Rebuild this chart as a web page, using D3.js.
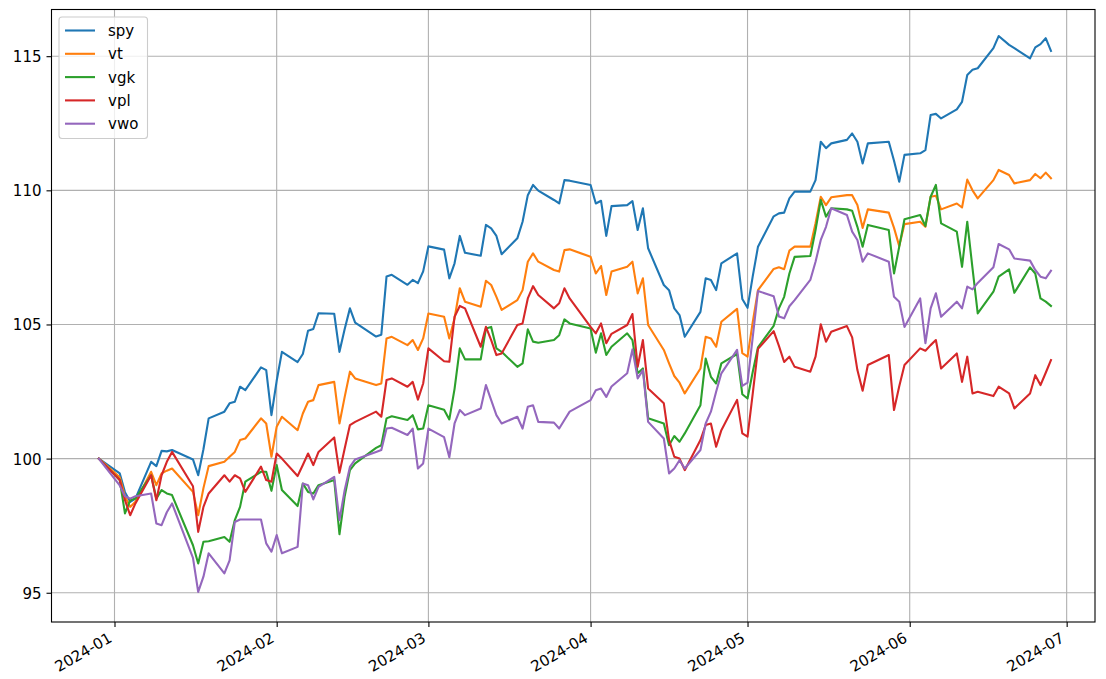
<!DOCTYPE html>
<html>
<head>
<meta charset="utf-8">
<script src="https://cdn.jsdelivr.net/npm/d3@7"></script>
<style>
  body { margin: 0; background: #fff; }
  svg { display: block; }
</style>
</head>
<body>
<div id="chart"></div>
<script>
// trading days, 2023-12-29 .. 2024-06-28
const dates = [
  "2023-12-29",
  "2024-01-02","2024-01-03","2024-01-04","2024-01-05","2024-01-08","2024-01-09","2024-01-10","2024-01-11","2024-01-12",
  "2024-01-16","2024-01-17","2024-01-18","2024-01-19","2024-01-22","2024-01-23","2024-01-24","2024-01-25","2024-01-26",
  "2024-01-29","2024-01-30","2024-01-31",
  "2024-02-01","2024-02-02","2024-02-05","2024-02-06","2024-02-07","2024-02-08","2024-02-09","2024-02-12","2024-02-13",
  "2024-02-14","2024-02-15","2024-02-16","2024-02-20","2024-02-21","2024-02-22","2024-02-23","2024-02-26","2024-02-27",
  "2024-02-28","2024-02-29",
  "2024-03-01","2024-03-04","2024-03-05","2024-03-06","2024-03-07","2024-03-08","2024-03-11","2024-03-12","2024-03-13",
  "2024-03-14","2024-03-15","2024-03-18","2024-03-19","2024-03-20","2024-03-21","2024-03-22","2024-03-25","2024-03-26",
  "2024-03-27","2024-03-28",
  "2024-04-01","2024-04-02","2024-04-03","2024-04-04","2024-04-05","2024-04-08","2024-04-09","2024-04-10","2024-04-11",
  "2024-04-12","2024-04-15","2024-04-16","2024-04-17","2024-04-18","2024-04-19","2024-04-22","2024-04-23","2024-04-24",
  "2024-04-25","2024-04-26","2024-04-29","2024-04-30",
  "2024-05-01","2024-05-02","2024-05-03","2024-05-06","2024-05-07","2024-05-08","2024-05-09","2024-05-10","2024-05-13",
  "2024-05-14","2024-05-15","2024-05-16","2024-05-17","2024-05-20","2024-05-21","2024-05-22","2024-05-23","2024-05-24",
  "2024-05-28","2024-05-29","2024-05-30","2024-05-31",
  "2024-06-03","2024-06-04","2024-06-05","2024-06-06","2024-06-07","2024-06-10","2024-06-11","2024-06-12","2024-06-13",
  "2024-06-14","2024-06-17","2024-06-18","2024-06-20","2024-06-21","2024-06-24","2024-06-25","2024-06-26","2024-06-27",
  "2024-06-28"
];

// values, one line per month
const spy = [100,
  99.45, 98.75, 98.39, 98.51, 99.88, 99.72, 100.29, 100.27, 100.32, 99.97, 99.38, 100.35, 101.5, 101.75, 102.06, 102.12, 102.68, 102.55, 103.4, 103.3, 101.62,
  102.9, 103.98, 103.6, 103.9, 104.77, 104.83, 105.42, 105.4, 103.98, 104.83, 105.6, 105.07, 104.55, 104.62, 106.79, 106.85, 106.48, 106.66, 106.54, 106.98,
  107.91, 107.79, 106.72, 107.28, 108.3, 107.67, 107.56, 108.71, 108.58, 108.3, 107.62, 108.21, 108.83, 109.82, 110.2, 109.99, 109.64, 109.51, 110.38, 110.36,
  110.2, 109.51, 109.61, 108.3, 109.41, 109.45, 109.6, 108.52, 109.33, 107.84, 106.47, 106.28, 105.6, 105.35, 104.54, 105.47, 106.72, 106.66, 106.28, 107.28, 107.65, 105.95,
  105.62, 106.8, 107.9, 109.03, 109.14, 109.17, 109.7, 109.95, 109.95, 110.38, 111.81, 111.57, 111.75, 111.88, 112.12, 111.81, 111.0, 111.75, 111.81, 111.1, 110.32, 111.32,
  111.38, 111.5, 112.81, 112.85, 112.68, 113.02, 113.3, 114.3, 114.49, 114.55, 115.3, 115.75, 115.42, 115.3, 114.92, 115.33, 115.45, 115.67, 115.2];

const vt = [100,
  99.3, 98.6, 98.2, 98.39, 99.51, 99.01, 99.45, 99.55, 99.63, 98.76, 97.89, 98.9, 99.72, 99.88, 100.07, 100.25, 100.69, 100.75, 101.5, 101.31, 100.07,
  101.19, 101.56, 101.06, 101.68, 102.12, 102.18, 102.74, 102.86, 101.31, 102.3, 103.24, 102.99, 102.74, 102.8, 104.48, 104.54, 104.23, 104.42, 104.05, 104.48,
  105.41, 105.29, 104.48, 105.23, 106.35, 105.85, 105.66, 106.63, 106.47, 106.03, 105.54, 105.91, 106.28, 107.34, 107.65, 107.34, 107.03, 106.97, 107.77, 107.8,
  107.52, 106.9, 107.18, 106.1, 106.97, 107.15, 107.34, 106.16, 106.72, 104.98, 104.05, 103.55, 103.08, 102.83, 102.43, 103.36, 104.54, 104.48, 104.17, 105.1, 105.58, 103.93,
  103.8, 105.1, 106.28, 107.07, 107.13, 107.06, 107.75, 107.9, 107.9, 108.77, 109.76, 109.45, 109.74, 109.82, 109.82, 109.45, 108.6, 109.29, 109.17, 108.6, 107.92, 108.74,
  108.83, 108.64, 109.76, 109.8, 109.29, 109.51, 109.36, 110.4, 110.0, 109.7, 110.38, 110.76, 110.57, 110.26, 110.38, 110.61, 110.45, 110.66, 110.45];

const vgk = [100,
  99.2, 97.96, 98.45, 98.51, 99.38, 98.51, 98.83, 98.7, 98.64, 96.77, 96.09, 96.9, 96.92, 97.08, 96.9, 97.71, 98.2, 99.14, 99.51, 99.51, 98.8,
  99.76, 98.83, 98.23, 99.07, 98.76, 98.7, 99.01, 99.2, 97.18, 98.6, 99.57, 99.82, 100.4, 100.5, 101.5, 101.58, 101.44, 101.62, 101.09, 101.12,
  101.99, 101.82, 101.46, 102.6, 104.11, 103.7, 103.7, 104.85, 104.91, 104.11, 103.98, 103.42, 103.55, 104.82, 104.36, 104.32, 104.42, 104.6, 105.19, 105.04,
  104.85, 103.95, 104.67, 103.86, 104.17, 104.67, 104.42, 103.18, 103.36, 101.5, 101.31, 100.5, 100.84, 100.63, 100.94, 101.99, 103.73, 103.05, 102.8, 103.55, 103.9, 102.4,
  102.24, 103.24, 104.15, 104.95, 105.6, 106.03, 106.9, 107.52, 107.55, 108.52, 109.64, 109.02, 109.33, 109.29, 109.24, 108.64, 107.9, 108.71, 108.52, 106.9, 107.9, 108.92,
  109.08, 108.67, 109.76, 110.2, 108.77, 108.46, 107.15, 108.83, 107.1, 105.41, 106.22, 106.78, 107.05, 106.18, 107.13, 106.9, 105.97, 105.85, 105.69];

const vpl = [100,
  99.2, 98.45, 97.89, 98.33, 99.38, 98.45, 99.38, 99.88, 100.25, 98.97, 97.27, 98.2, 98.7, 99.38, 99.14, 99.38, 99.26, 98.76, 99.7, 99.2, 99.14,
  100.19, 100.0, 99.35, 99.76, 100.19, 99.76, 100.25, 100.79, 99.47, 100.38, 101.25, 101.37, 101.75, 101.56, 102.93, 102.99, 102.68, 102.86, 102.2, 102.8,
  104.11, 103.63, 103.61, 105.29, 105.69, 105.6, 104.17, 104.91, 104.42, 103.86, 103.92, 104.98, 105.04, 105.97, 106.43, 106.1, 105.6, 105.79, 106.35, 105.97,
  104.91, 104.67, 105.04, 104.3, 104.65, 104.98, 105.39, 103.42, 104.42, 102.61, 102.06, 100.69, 100.07, 100.0, 99.57, 100.69, 101.25, 101.31, 100.44, 101.06, 102.19, 100.94,
  100.82, 102.43, 104.09, 104.75, 104.2, 103.6, 103.8, 103.42, 103.24, 103.8, 105.01, 104.36, 104.73, 104.94, 104.52, 103.3, 102.53, 103.49, 103.86, 101.81, 102.7, 103.49,
  104.11, 104.02, 104.23, 104.42, 103.36, 103.92, 102.86, 103.8, 102.43, 102.49, 102.33, 102.68, 102.43, 101.87, 102.43, 103.11, 102.74, 103.2, 103.67];

const vwo = [100,
  99.0, 98.6, 98.51, 98.6, 98.7, 97.58, 97.52, 98.0, 98.33, 96.3, 95.03, 95.6, 96.47, 95.72, 96.21, 97.64, 97.73, 97.73, 97.73, 96.84, 96.53,
  97.15, 96.47, 96.71, 99.07, 99.01, 98.48, 98.95, 99.32, 97.71, 98.83, 99.69, 99.97, 100.25, 100.32, 101.12, 101.15, 100.88, 101.12, 99.63, 99.82,
  101.12, 100.8, 100.05, 101.31, 101.81, 101.62, 101.87, 102.74, 102.18, 101.62, 101.31, 101.56, 101.12, 101.93, 101.99, 101.37, 101.34, 101.12, 101.44, 101.75,
  102.18, 102.55, 102.61, 102.3, 102.69, 103.18, 104.07, 102.99, 103.3, 101.37, 100.75, 99.45, 99.63, 99.94, 99.63, 100.32, 101.31, 101.75, 102.49, 103.18, 104.05, 102.71,
  102.83, 104.54, 106.25, 106.05, 105.3, 105.23, 105.68, 105.91, 106.66, 107.34, 108.15, 108.64, 109.33, 109.08, 108.46, 108.15, 107.34, 107.65, 107.34, 106.03, 105.85, 104.91,
  105.97, 104.3, 105.6, 106.16, 105.29, 105.85, 105.6, 106.41, 106.31, 106.55, 107.13, 108.0, 107.8, 107.46, 107.38, 107.03, 106.78, 106.72, 107.0];

const names = ["spy", "vt", "vgk", "vpl", "vwo"];
const colors = ["#1f77b4", "#ff7f0e", "#2ca02c", "#d62728", "#9467bd"];
const yTicks = [95, 100, 105, 110, 115];
const xTickLabels = ["2024-01", "2024-02", "2024-03", "2024-04", "2024-05", "2024-06", "2024-07"];

////////////////////////////////////////////////////////////////////////
// figure layout

let width = 1106;
let height = 679;
let margin = ({top: 9.5, right: 11, bottom: 57, left: 51.5});
let fontSize = 15;
let font = "DejaVu Sans, sans-serif";

let parseDay = d3.timeParse("%Y-%m-%d");
let parseMonth = d3.timeParse("%Y-%m");
let days = dates.map(parseDay);
let series = [spy, vt, vgk, vpl, vwo].map((vals, i) => ({
  name: names[i],
  color: colors[i],
  points: vals.map((v, j) => ({date: days[j], value: v}))
}));

let svg = d3.select("#chart")
  .append("svg")
  .attr("width", width).attr("height", height);

// axis limits, matching the reference frame
let xScale = d3.scaleTime()
  .domain([new Date(2023, 11, 19, 23), new Date(2024, 6, 6, 10)])
  .range([margin.left, width - margin.right]);
let yScale = d3.scaleLinear()
  .domain([93.91, 116.74])
  .range([height - margin.bottom, margin.top]);

let xTicks = xTickLabels.map(parseMonth);

// grid
let grid = svg.append("g").attr("stroke", "#b0b0b0").attr("stroke-width", 1.1);
grid.selectAll("line.gx").data(xTicks).enter()
  .append("line")
  .attr("x1", d => xScale(d)).attr("x2", d => xScale(d))
  .attr("y1", margin.top).attr("y2", height - margin.bottom);
grid.selectAll("line.gy").data(yTicks).enter()
  .append("line")
  .attr("y1", d => yScale(d)).attr("y2", d => yScale(d))
  .attr("x1", margin.left).attr("x2", width - margin.right);

// lines
let line = d3.line()
  .x(d => xScale(d.date))
  .y(d => yScale(d.value));

svg.append("g")
  .selectAll("path")
  .data(series).enter()
  .append("path")
  .attr("fill", "none")
  .attr("stroke", d => d.color)
  .attr("stroke-width", 2.1)
  .attr("stroke-linejoin", "round")
  .attr("stroke-linecap", "square")
  .attr("d", d => line(d.points));

// axes
let xAxis = g => g
  .attr("transform", `translate(0,${height - margin.bottom})`)
  .call(d3.axisBottom(xScale).tickValues(xTicks)
    .tickFormat(d3.timeFormat("%Y-%m")).tickSize(5).tickSizeOuter(0));
let yAxis = g => g
  .attr("transform", `translate(${margin.left},0)`)
  .call(d3.axisLeft(yScale).tickValues(yTicks).tickSize(5).tickPadding(5).tickSizeOuter(0));

let gx = svg.append("g").call(xAxis);
let gy = svg.append("g").call(yAxis);

[gx, gy].forEach(g => {
  g.attr("font-family", font).attr("font-size", fontSize);
  g.select(".domain").remove();
  g.selectAll(".tick line").attr("stroke", "#000").attr("stroke-width", 1.1);
  g.selectAll(".tick text").attr("fill", "#000");
});

gx.selectAll(".tick text")
  .attr("text-anchor", "end")
  .attr("x", 0).attr("y", 0).attr("dy", null)
  .attr("transform", "translate(-2,19) rotate(-30)");

gy.selectAll(".tick text").attr("dy", "0.36em");

// frame
svg.append("rect")
  .attr("x", margin.left).attr("y", margin.top)
  .attr("width", width - margin.left - margin.right)
  .attr("height", height - margin.top - margin.bottom)
  .attr("fill", "none")
  .attr("stroke", "#000")
  .attr("stroke-width", 1.1);

// legend
let lg = svg.append("g");
let rowH = 23.3;
let lx = margin.left + 7.5;
let ly = margin.top + 7.5;
lg.append("rect")
  .attr("x", lx).attr("y", ly)
  .attr("width", 88.5).attr("height", rowH * series.length + 5)
  .attr("rx", 3)
  .attr("fill", "#fff").attr("fill-opacity", 0.8)
  .attr("stroke", "#cccccc").attr("stroke-width", 1.1);

let items = lg.selectAll("g.item")
  .data(series).enter()
  .append("g")
  .attr("transform", (d, i) => `translate(${lx + 6},${ly + 13.5 + i * rowH})`);
items.append("line")
  .attr("x1", 0).attr("x2", 30)
  .attr("stroke", d => d.color)
  .attr("stroke-width", 2.1);
items.append("text")
  .attr("x", 43).attr("dy", "0.36em")
  .attr("font-family", font).attr("font-size", fontSize)
  .attr("fill", "#000")
  .text(d => d.name);
</script>
</body>
</html>
